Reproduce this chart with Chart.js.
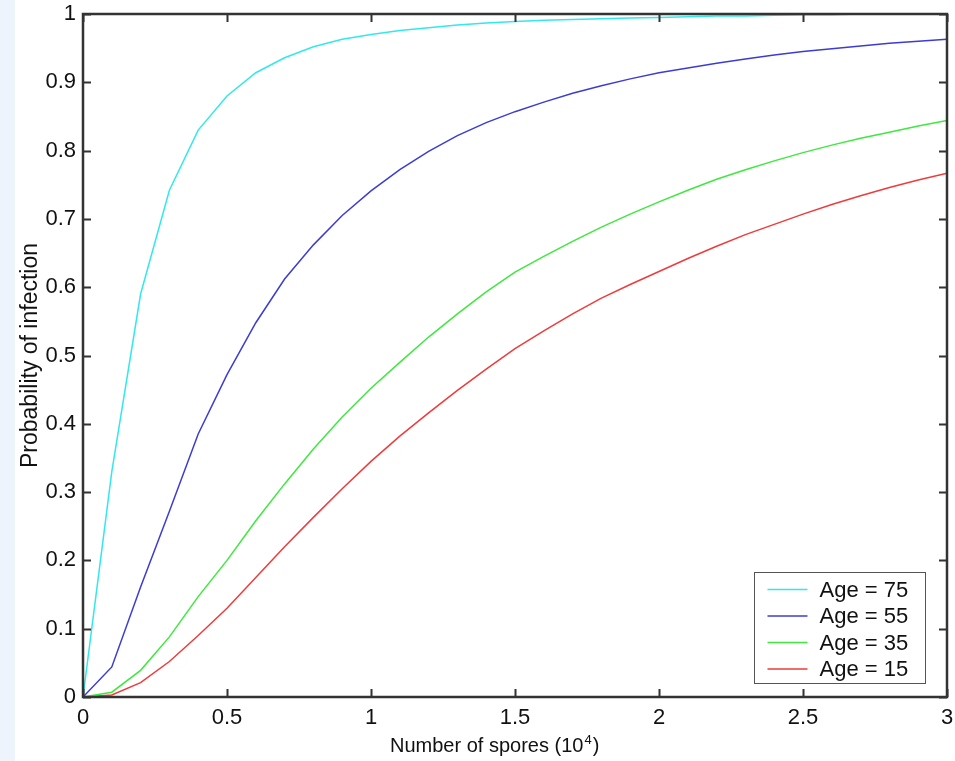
<!DOCTYPE html>
<html>
<head>
<meta charset="utf-8">
<script src="https://cdn.jsdelivr.net/npm/chart.js@4"></script>
<style>
  html, body { margin: 0; padding: 0; background: #fff; }
  body { background: linear-gradient(to right, #eef4fb 0, #eef4fb 15px, #fff 15px); }
  #wrap { width: 955px; height: 761px; }
</style>
</head>
<body>
<div id="wrap"><canvas id="canvas" width="955" height="761"></canvas></div>
<script>
const spores = [0, 0.1, 0.2, 0.3, 0.4, 0.5, 0.6, 0.7, 0.8, 0.9, 1.0,
  1.1, 1.2, 1.3, 1.4, 1.5, 1.6, 1.7, 1.8, 1.9, 2.0,
  2.1, 2.2, 2.3, 2.4, 2.5, 2.6, 2.7, 2.8, 2.9, 3.0];

const age75 = [0, 0.33, 0.59, 0.742, 0.83, 0.88, 0.914, 0.936, 0.952, 0.963, 0.97,
  0.976, 0.98, 0.984, 0.987, 0.989, 0.991, 0.992, 0.993, 0.994, 0.995,
  0.996, 0.997, 0.997, 0.998, 0.999, 0.999, 1.0, 1.0, 1.0, 1.0];
const age55 = [0, 0.044, 0.161, 0.272, 0.385, 0.472, 0.548, 0.612, 0.662, 0.705, 0.741,
  0.772, 0.799, 0.822, 0.841, 0.857, 0.871, 0.884, 0.895, 0.905, 0.914,
  0.921, 0.928, 0.934, 0.94, 0.945, 0.949, 0.953, 0.957, 0.96, 0.963];
const age35 = [0, 0.007, 0.039, 0.088, 0.147, 0.2, 0.258, 0.312, 0.363, 0.41, 0.452,
  0.49, 0.527, 0.561, 0.593, 0.622, 0.645, 0.667, 0.688, 0.707, 0.725,
  0.742, 0.758, 0.772, 0.785, 0.797, 0.808, 0.818, 0.827, 0.836, 0.844];
const age15 = [0, 0.003, 0.021, 0.052, 0.09, 0.13, 0.175, 0.22, 0.263, 0.305, 0.345,
  0.382, 0.416, 0.449, 0.48, 0.51, 0.536, 0.561, 0.584, 0.604, 0.623,
  0.642, 0.66, 0.677, 0.692, 0.707, 0.721, 0.734, 0.746, 0.757, 0.767];

const seriesLabels = ['Age = 75', 'Age = 55', 'Age = 35', 'Age = 15'];
const seriesColors = ['#33e8ea', '#3c3cd4', '#3fe83f', '#ef3b3b'];
const xTicks = [0, 0.5, 1, 1.5, 2, 2.5, 3];
const yTicks = [0, 0.1, 0.2, 0.3, 0.4, 0.5, 0.6, 0.7, 0.8, 0.9, 1];

const FONT = '"Liberation Sans", Arial, Helvetica, sans-serif';
const AXIS = '#333';
const fmt = v => String(Math.round(v * 10) / 10);

function pts(ys) {
  return spores.map((x, i) => ({ x: x, y: ys[i] }));
}

const boxPlugin = {
  id: 'matlabBox',
  afterDraw(chart) {
    const ctx = chart.ctx;
    const a = chart.chartArea;
    const xs = chart.scales.x, ys = chart.scales.y;
    const tl = 8;
    ctx.save();
    ctx.strokeStyle = AXIS;
    ctx.lineWidth = 2;
    ctx.beginPath();
    xTicks.forEach(v => {
      const px = Math.round(xs.getPixelForValue(v)) + 0.5;
      ctx.moveTo(px, a.bottom); ctx.lineTo(px, a.bottom - tl);
      ctx.moveTo(px, a.top); ctx.lineTo(px, a.top + tl);
    });
    yTicks.forEach(v => {
      const py = Math.round(ys.getPixelForValue(v)) + 0.5;
      ctx.moveTo(a.left, py); ctx.lineTo(a.left + tl, py);
      ctx.moveTo(a.right, py); ctx.lineTo(a.right - tl, py);
    });
    ctx.stroke();
    ctx.lineWidth = 2.5;
    ctx.strokeRect(a.left, a.top, a.right - a.left, a.bottom - a.top);

    // x title with raised exponent
    ctx.fillStyle = '#111';
    ctx.textBaseline = 'alphabetic';
    ctx.textAlign = 'left';
    ctx.font = '20px ' + FONT;
    let tx = a.left + 307;
    const ty = a.bottom + 55;
    const t1 = 'Number of spores (10';
    ctx.fillText(t1, tx, ty);
    tx += ctx.measureText(t1).width + 1;
    ctx.font = '13px ' + FONT;
    ctx.fillText('4', tx, ty - 8);
    tx += ctx.measureText('4').width + 1;
    ctx.font = '20px ' + FONT;
    ctx.fillText(')', tx, ty);

    // legend
    const bw = 171, bh = 111;
    const bx = a.right - 22 - bw + 0.5, by = a.bottom - 14 - bh + 0.5;
    ctx.fillStyle = '#fff';
    ctx.fillRect(bx, by, bw, bh);
    ctx.lineWidth = 1;
    ctx.strokeStyle = '#555';
    ctx.strokeRect(bx, by, bw, bh);
    ctx.font = '22px ' + FONT;
    ctx.textBaseline = 'middle';
    chart.data.datasets.forEach((ds, i) => {
      const cy = by + 17 + i * 26.5;
      ctx.strokeStyle = ds.borderColor;
      ctx.lineWidth = 1.5;
      ctx.beginPath();
      ctx.moveTo(bx + 13, cy); ctx.lineTo(bx + 53, cy);
      ctx.stroke();
      ctx.fillStyle = '#111';
      ctx.fillText(ds.label, bx + 65, cy + 1);
    });
    ctx.restore();
  }
};

const chart = new Chart(document.getElementById('canvas'), {
  type: 'line',
  data: {
    datasets: [age75, age55, age35, age15].map((ys, i) => ({
      label: seriesLabels[i],
      data: pts(ys),
      borderColor: seriesColors[i],
      borderWidth: 1.5,
      pointRadius: 0,
      tension: 0,
      fill: false
    }))
  },
  options: {
    responsive: false,
    animation: false,
    layout: { padding: { top: 14, right: 8, left: 0, bottom: 0 } },
    plugins: { legend: { display: false }, tooltip: { enabled: false } },
    scales: {
      x: {
        type: 'linear', min: 0, max: 3,
        afterBuildTicks: s => { s.ticks = xTicks.map(v => ({ value: v })); },
        afterFit: s => { s.height = 64; s.paddingLeft = 0; s.paddingRight = 0; },
        grid: { display: false, drawTicks: false },
        border: { display: false },
        ticks: { color: '#111', padding: 8, font: { family: FONT, size: 22 }, maxRotation: 0,
          callback: fmt },
        title: { display: false }
      },
      y: {
        type: 'linear', min: 0, max: 1,
        afterBuildTicks: s => { s.ticks = yTicks.map(v => ({ value: v })); },
        afterFit: s => { s.width = 83; s.paddingTop = 0; s.paddingBottom = 0; },
        grid: { display: false, drawTicks: false },
        border: { display: false },
        ticks: { color: '#111', padding: 7, font: { family: FONT, size: 22 }, callback: fmt },
        title: { display: true, text: 'Probability of infection', color: '#111',
          font: { family: FONT, size: 23 }, padding: { top: 17, bottom: 0 } }
      }
    }
  },
  plugins: [boxPlugin]
});
</script>
</body>
</html>
